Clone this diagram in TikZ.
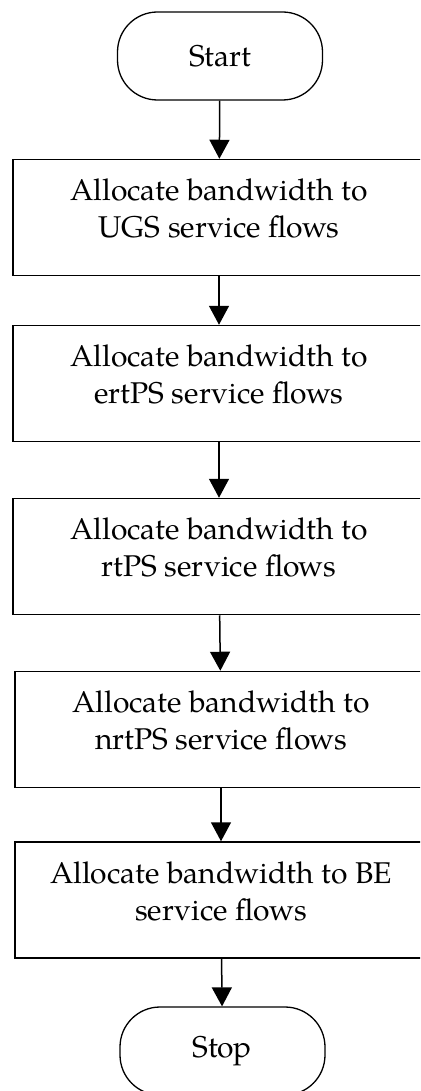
\documentclass[tikz,border=0pt]{standalone}
\usepackage{fontspec}
\setmainfont{TeX Gyre Pagella}
\usetikzlibrary{arrows.meta}

% extra depth under the last line so the two text lines sit a little high
\newcommand{\lowpad}{\rule[-18pt]{0pt}{0pt}}

\tikzset{
  stepbox/.style={draw, line width=1.5pt, rectangle, minimum width=412pt,
    minimum height=116pt, inner sep=0pt, align=center,
    font=\fontsize{30}{37}\selectfont},
  terminal/.style={draw, line width=1.3pt, rectangle, rounded corners=40pt,
    minimum width=205pt, minimum height=88pt, inner sep=0pt,
    font=\fontsize{30}{37}\selectfont},
  flow/.style={line width=1.5pt, -{Triangle[width=20pt,length=19pt]}}
}

\begin{document}
\begin{tikzpicture}[x=1pt,y=-1pt]
\useasboundingbox (0,0) rectangle (420,1091);
\clip (0,0) rectangle (420,1091);

\node[terminal] (start) at (220,56) {Start};
\node[stepbox] (ugs)   at (219,217.5) {Allocate bandwidth to\\UGS service flows\lowpad};
\node[stepbox] (ertps) at (219,383.5) {Allocate bandwidth to\\ertPS service flows\lowpad};
\node[stepbox] (rtps)  at (219,556.5) {Allocate bandwidth to\\rtPS service flows\lowpad};
\node[stepbox] (nrtps) at (221,729.5) {Allocate bandwidth to\\nrtPS service flows\lowpad};
\node[stepbox] (be)    at (221,900)   {Allocate bandwidth to BE\\service flows\lowpad};
\node[terminal] (stop) at (222.5,1051) {Stop};

\draw[flow] (start) -- (ugs);
\draw[flow] (ugs)   -- (ertps);
\draw[flow] (ertps) -- (rtps);
\draw[flow] (rtps)  -- (nrtps);
\draw[flow] (nrtps) -- (be);
\draw[flow] (be)    -- (stop);
\end{tikzpicture}
\end{document}
